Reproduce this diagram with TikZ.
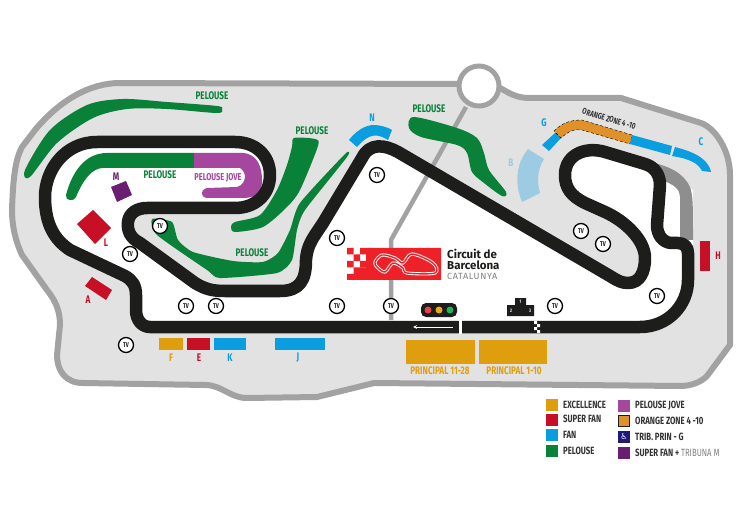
\documentclass[tikz,border=0pt]{standalone}
\usepackage{fontspec}
\setmainfont{Fira Sans}[FakeStretch=0.74]
\newfontfamily\logofont{Fira Sans}
\newfontfamily\logospaced{Fira Sans}[LetterSpace=7]
\newfontfamily\symbolfont{DejaVu Sans}
\definecolor{wallgray}{HTML}{A2A2A2}
\definecolor{paddock}{HTML}{E2E2E2}
\definecolor{pitgray}{HTML}{8E8E8E}
\definecolor{tarmac}{HTML}{1D1D1B}
\definecolor{pelousegreen}{HTML}{0A8138}
\definecolor{jovepurple}{HTML}{A5479F}
\definecolor{fanblue}{HTML}{0A9DE0}
\definecolor{paleblue}{HTML}{9CCBE3}
\definecolor{superred}{HTML}{C70F26}
\definecolor{goldstand}{HTML}{DE9E0E}
\definecolor{orangezone}{HTML}{E0912A}
\definecolor{tribpurple}{HTML}{6B1D72}
\definecolor{logored}{HTML}{EE2129}
\definecolor{navyswatch}{HTML}{1F1A78}
\definecolor{legendtext}{HTML}{333333}
\definecolor{lampred}{HTML}{E8414A}
\definecolor{lampamber}{HTML}{E8A91C}
\definecolor{lampgreen}{HTML}{1FB45A}
\newcommand{\trackoutline}{(150,327) -- (640,327) .. controls (668,327) and (688,305) .. (688,280) -- (688,253) .. controls (688,247) and (684,243) .. (678,243) -- (672,243) .. controls (663,243) and (657,235) .. (657,225) -- (660,185) .. controls (660,175) and (655,167) .. (645,164) -- (605,152) .. controls (585,146) and (565,155) .. (565,175) .. controls (565,188) and (571,196) .. (585,203) -- (605,212) .. controls (625,221) and (645,240) .. (645,258) .. controls (645,272) and (640,283) .. (628,283) .. controls (622,283) and (618,281) .. (610,276) -- (398,152) .. controls (385,145) and (370,142) .. (362,158) -- (323,223) .. controls (313,238) and (307,245) .. (306,260) .. controls (306,280) and (300,291) .. (280,291) -- (225,291) .. controls (212,291) and (205,289) .. (195,283) -- (140,243) .. controls (130,238) and (127,230) .. (128,222) .. controls (129,213) and (137,208) .. (147,208) -- (235,208) .. controls (255,208) and (270,195) .. (270,175) .. controls (270,155) and (255,142) .. (235,142) -- (97,142) .. controls (65,142) and (45,170) .. (45,197) .. controls (45,225) and (55,240) .. (70,250) -- (125,276) .. controls (132,280) and (136,285) .. (136,295) -- (136,310) .. controls (136,320) and (142,327) .. (150,327) -- cycle}
\newcommand{\logocircuit}{plot[smooth cycle, tension=0.55] coordinates {(375,262) (382,255) (395,258) (403,263) (412,254) (433,263) (435,273) (407,273) (403,268) (393,263) (385,272) (377,267)}}
\tikzset{
	wall/.style={draw=wallgray, line width=6pt, fill=paddock, line join=round},
	racetrack/.style={draw=tarmac, line width=12.5pt, line join=round},
	tvmark/.style={circle, draw=black, fill=white, line width=1.3pt, minimum size=15pt, inner sep=0pt, font=\fontsize{7}{7}\selectfont\bfseries, text=tarmac},
	standlabel/.style={font=\fontsize{11}{12}\selectfont\bfseries, text=#1, inner sep=0pt},
	legendlabel/.style={font=\fontsize{10.5}{11}\selectfont\bfseries, text=legendtext, anchor=west, inner sep=0pt},
	swatch/.style={minimum size=12pt, inner sep=0pt, fill=#1}
}
\begin{document}
\begin{tikzpicture}[x=1pt, y=-1pt]
	\useasboundingbox (0,0) rectangle (748,524);
	\draw[wall] (120,83) -- (458,84) -- (490,84) .. controls (505,88) and (510,98) .. (530,98) -- (621,98) -- (701,123) .. controls (715,128) and (730,150) .. (730,175) -- (730,345) -- (707,376) .. controls (700,383) and (690,386) .. (680,386) -- (374,383) -- (317,397) -- (247,398) .. controls (230,398) and (222,385) .. (205,385) -- (83,383) .. controls (65,383) and (57,370) .. (57,355) -- (60,325) .. controls (60,310) and (55,300) .. (47,290) -- (22,255) .. controls (15,240) and (12,225) .. (12,210) .. controls (13,180) and (15,160) .. (22,147) -- (35,130) .. controls (60,100) and (90,83) .. (120,83) -- cycle;
	\fill[white] \trackoutline;
	\fill[white] (650,162) -- (693,190) -- (693,245) -- (665,243) -- (655,200) -- cycle;
	\fill[pitgray] (650,162) .. controls (668,166) and (683,172) .. (690,187) .. controls (693,195) and (693,205) .. (693,240) -- (680,240) -- (680,197) .. controls (680,190) and (675,185) .. (664,181) -- cycle;
	\draw[draw=wallgray, line width=4.5pt, line join=round] (466,107) -- (391,240) -- (391,320);
	\draw[draw=wallgray, line width=5pt, fill=white] (479,86) circle (20);
	\fill[pelousegreen] plot[smooth cycle, tension=0.5] coordinates {(25,170) (50,130) (87,105) (123,99) (167,102) (217,106) (222,109) (217,113) (167,109) (127,109) (93,118) (57,143) (30,177)};
	\fill[pelousegreen] (66,195) .. controls (72,172) and (85,153) .. (107,153) -- (194,153) -- (194,168) -- (103,168) .. controls (92,168) and (83,180) .. (76,197) .. controls (74,202) and (65,201) .. (66,195) -- cycle;
	\fill[jovepurple] (194,153) -- (243,153) .. controls (258,154) and (262,168) .. (262,180) .. controls (262,195) and (255,197) .. (245,198) -- (207,198) .. controls (200,197) and (200,190) .. (207,188) -- (237,187) .. controls (247,184) and (247,172) .. (240,168) -- (194,168) -- cycle;
	\fill[pelousegreen] plot[smooth cycle, tension=0.45] coordinates {(294,138) (315,139) (318,146) (300,190) (287,207) (263,227) (235,232) (231,227) (235,222) (260,215) (277,190) (287,165) (292,147)};
	\fill[pelousegreen] plot[smooth cycle, tension=0.35] coordinates {(152,219) (172,222) (178,240) (193,252) (233,261) (263,262) (278,253) (290,230) (300,203) (345,154) (347,157) (305,210) (297,230) (292,260) (277,273) (220,278) (207,270) (157,235)};
	\fill[pelousegreen] plot[smooth cycle, tension=0.5] coordinates {(414,117) (457,128) (477,138) (484,153) (489,170) (506,192) (502,196) (484,183) (472,172) (467,153) (457,145) (421,137) (409,128)};
	\fill[fanblue] (349,140) .. controls (356,131) and (365,125) .. (374,125) .. controls (380,125) and (387,127) .. (392,130) -- (388,140) .. controls (378,134) and (370,132) .. (357,147) -- cycle;
	\fill[fanblue] (542,145) -- (556,132) -- (561,138) -- (549,151) -- cycle;
	\draw[black, densely dashed, line width=0.4pt, fill=orangezone] (554,131) .. controls (562,123) and (570,120) .. (582,120) -- (632,135) -- (630,144) -- (582,130) .. controls (575,129) and (570,130) .. (561,138) -- cycle;
	\fill[fanblue] (632,135) -- (672,146) -- (670,155) -- (630,144) -- cycle;
	\fill[fanblue] (675,147) .. controls (690,151) and (708,157) .. (711,172) -- (702,171) .. controls (698,163) and (690,159) .. (672,156) -- cycle;
	\fill[paleblue] (528,149) -- (544,159) .. controls (537,170) and (537,182) .. (540,193) -- (522,202) .. controls (515,185) and (515,165) .. (528,149) -- cycle;
	\draw[racetrack] \trackoutline;
	\fill[white] (458.5,320) rectangle (462,334);
	\coordinate (arrowstart) at (453,327);
	\coordinate (arrowend) at (413,327);
	\draw[->, >=stealth, draw=white, line width=0.8pt] (arrowstart) -- (arrowend);
	\fill[white] (534,321) rectangle (537,324) (537,324) rectangle (540,327) (534,327) rectangle (537,330) (537,330) rectangle (540,333);
	\fill[superred] (187,338) rectangle ++(23,12);
	\fill[goldstand] (159,338) rectangle ++(24,12);
	\fill[fanblue] (214,338) rectangle ++(32,12);
	\fill[fanblue] (275,338) rectangle ++(50,12);
	\fill[goldstand] (406,340) rectangle ++(69,24);
	\fill[goldstand] (479,340) rectangle ++(68,24);
	\fill[superred] (700,241) rectangle ++(10,30);
	\fill[superred] (92,277) -- (112,290) -- (106,300) -- (85,286) -- cycle;
	\fill[superred] (93,210) -- (111,228) -- (95,244) -- (77,224) -- cycle;
	\fill[tribpurple] (126,181) -- (132,195) -- (117,202) -- (111,187) -- cycle;
	\node[standlabel=pelousegreen] (pelousetop) at (212,96) {PELOUSE};
	\node[standlabel=pelousegreen] (pelousemid) at (312,131) {PELOUSE};
	\node[standlabel=pelousegreen] (pelouseleft) at (160,175) {PELOUSE};
	\node[standlabel=pelousegreen] (pelouseright) at (429,109) {PELOUSE};
	\node[standlabel=pelousegreen] (pelouselow) at (252,253) {PELOUSE};
	\node[standlabel=jovepurple, font=\fontsize{10}{10}\selectfont\bfseries] (jove) at (218,178) {PELOUSE JOVE};
	\node[standlabel=fanblue] (labeln) at (372,118) {N};
	\node[standlabel=fanblue] (labelg) at (544,123) {G};
	\node[standlabel=fanblue] (labelc) at (701,142) {C};
	\node[standlabel=paleblue] (labelb) at (511,163) {B};
	\node[standlabel=superred] (labelh) at (718,256) {H};
	\node[standlabel=superred] (labell) at (106,243) {L};
	\node[standlabel=tribpurple] (labelm) at (116,177) {M};
	\node[standlabel=superred] (labela) at (88,300) {A};
	\node[standlabel=goldstand] (labelf) at (171,358) {F};
	\node[standlabel=superred] (labele) at (199,358) {E};
	\node[standlabel=fanblue] (labelk) at (230,358) {K};
	\node[standlabel=fanblue] (labelj) at (298,358) {J};
	\node[standlabel=goldstand] (principalb) at (440,371) {PRINCIPAL 11-28};
	\node[standlabel=goldstand] (principala) at (514,371) {PRINCIPAL 1-10};
	\node[standlabel=legendtext, font=\fontsize{8.5}{9}\selectfont\bfseries, rotate=-17] (orangetext) at (609,119) {ORANGE ZONE 4 -10};
	\node[tvmark] (tva) at (126,345) {TV};
	\node[tvmark] (tvb) at (186,306) {TV};
	\node[tvmark] (tvc) at (216,306) {TV};
	\node[tvmark] (tvd) at (337,306) {TV};
	\node[tvmark] (tve) at (391,306) {TV};
	\node[tvmark] (tvf) at (555,306) {TV};
	\node[tvmark] (tvg) at (657,296) {TV};
	\node[tvmark] (tvh) at (603,244) {TV};
	\node[tvmark] (tvi) at (581,231) {TV};
	\node[tvmark] (tvj) at (337,238) {TV};
	\node[tvmark] (tvk) at (130,254) {TV};
	\node[tvmark] (tvl) at (160,226) {TV};
	\node[tvmark] (tvm) at (377,175) {TV};
	\fill[logored] (347,248) rectangle ++(6.5,6.5) (360,248) rectangle ++(6,6.5);
	\fill[logored] (353.5,254.5) rectangle ++(6.5,6.5) (366,248) rectangle (441,280);
	\fill[logored] (347,261) rectangle ++(6.5,6.5) (360,261) rectangle ++(6.5,6.5);
	\fill[logored] (353.5,267.5) rectangle ++(13,6.5) (347,274) rectangle ++(20,6);
	\draw[draw=white, line width=3.2pt, line join=round] \logocircuit;
	\draw[draw=logored, line width=1.4pt, line join=round] \logocircuit;
	\node[anchor=west, inner sep=0pt, font=\logofont\fontsize{11.5}{12}\selectfont\bfseries, text=tarmac] (logoa) at (447,254) {Circuit de};
	\node[anchor=west, inner sep=0pt, font=\logofont\fontsize{11.5}{12}\selectfont\bfseries, text=tarmac] (logob) at (447,265) {Barcelona};
	\node[anchor=west, inner sep=0pt, font=\logospaced\fontsize{9}{9}\selectfont, text=gray] (logoc) at (447,276) {CATALUNYA};
	\fill[tarmac, rounded corners=5pt] (421,303) rectangle (457,317);
	\fill[lampred] (428,310) circle (3.5);
	\fill[lampamber] (439,310) circle (3.5);
	\fill[lampgreen] (450,310) circle (3.5);
	\fill[tarmac] (507,305) -- (515,305) -- (515,298) -- (526,298) -- (526,305) -- (534,305) -- (534,316) -- (507,316) -- cycle;
	\node[text=white, inner sep=0pt, font=\fontsize{5}{5}\selectfont\bfseries] (podiuma) at (520.5,302) {1};
	\node[text=white, inner sep=0pt, font=\fontsize{5}{5}\selectfont\bfseries] (podiumb) at (511,311) {2};
	\node[text=white, inner sep=0pt, font=\fontsize{5}{5}\selectfont\bfseries] (podiumc) at (530,311) {3};
	\node[swatch=goldstand] (swa) at (552,405) {};
	\node[legendlabel] (txa) at (563,405) {EXCELLENCE};
	\node[swatch=superred] (swb) at (552,420) {};
	\node[legendlabel] (txb) at (563,419) {SUPER FAN};
	\node[swatch=fanblue] (swc) at (552,435) {};
	\node[legendlabel] (txc) at (563,435) {FAN};
	\node[swatch=pelousegreen] (swd) at (552,451) {};
	\node[legendlabel] (txd) at (563,451) {PELOUSE};
	\node[swatch=jovepurple] (swe) at (624,406) {};
	\node[legendlabel] (txe) at (635,406) {PELOUSE JOVE};
	\node[swatch=orangezone, draw=tarmac, line width=1pt, minimum size=11pt] (swf) at (624,421) {};
	\node[legendlabel] (txf) at (635,421) {ORANGE ZONE 4 -10};
	\node[swatch=navyswatch, text=white, font=\symbolfont\fontsize{8}{8}\selectfont] (swg) at (624,437) {♿};
	\node[legendlabel] (txg) at (635,437) {TRIB. PRIN - G};
	\node[swatch=tribpurple] (swh) at (624,453) {};
	\node[legendlabel] (txh) at (635,453) {SUPER FAN + \textcolor{gray}{\mdseries TRIBUNA M}};
\end{tikzpicture}
\end{document}
